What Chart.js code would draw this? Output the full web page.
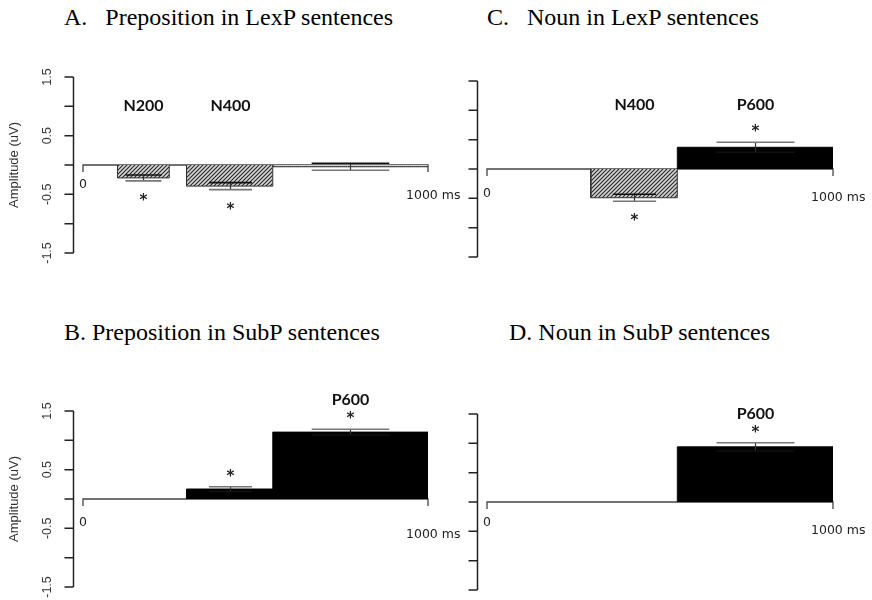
<!DOCTYPE html>
<html lang="en">
<head>
<meta charset="UTF-8">
<title>ERP amplitudes</title>
<script src="https://cdn.jsdelivr.net/npm/chart.js"></script>
<style>
    body {
        margin: 0;
        width: 872px;
        height: 600px;
        background: #fff;
        position: relative;
        overflow: hidden;
    }
    .title {
        position: absolute;
        font-family: "Liberation Serif", serif;
        font-size: 24px;
        line-height: 1;
        color: #000;
        white-space: pre;
    }
    canvas { position: absolute; }
</style>
</head>
<body>
<div class="title" style="left:64px; top:5px">A.   Preposition in LexP sentences</div>
<div class="title" style="left:487px; top:5px">C.   Noun in LexP sentences</div>
<div class="title" style="left:64px; top:320px">B. Preposition in SubP sentences</div>
<div class="title" style="left:509px; top:320px">D. Noun in SubP sentences</div>

<canvas id="chartA" width="480" height="220" style="left:0; top:60px"></canvas>
<canvas id="chartC" width="436" height="220" style="left:436px; top:60px"></canvas>
<canvas id="chartB" width="480" height="220" style="left:0; top:380px"></canvas>
<canvas id="chartD" width="436" height="220" style="left:436px; top:380px"></canvas>

<script>
// time windows (ms), mean amplitude (uV) and error per window
// A: preposition, LexP
const aStart = [100, 300, 550];
const aEnd   = [250, 550, 1000];
const aMean  = [-0.22, -0.36, -0.03];
const aErr   = [0.05, 0.06, 0.06];
const aFill  = ['hatch', 'hatch', 'dots'];
const aLabel = ['N200', 'N400', ''];
const aStar  = [true, true, false];

// B: preposition, SubP
const bStart = [300, 550];
const bEnd   = [550, 1000];
const bMean  = [0.17, 1.14];
const bErr   = [0.04, 0.05];
const bFill  = ['solid', 'solid'];
const bLabel = ['', 'P600'];
const bStar  = [true, true];

// C: noun, LexP
const cStart = [300, 550];
const cEnd   = [550, 1000];
const cMean  = [-0.49, 0.37];
const cErr   = [0.06, 0.085];
const cFill  = ['hatch', 'solid'];
const cLabel = ['N400', 'P600'];
const cStar  = [true, true];

// D: noun, SubP
const dStart = [550];
const dEnd   = [1000];
const dMean  = [0.94];
const dErr   = [0.07];
const dFill  = ['solid'];
const dLabel = ['P600'];
const dStar  = [true];

const yTicks = [-1.5, -1, -0.5, 0, 0.5, 1, 1.5];
const yTickLabels = ['-1.5', '', '-0.5', '', '0.5', '', '1.5'];
const xStartLabel = '0';
const xEndLabel = '1000 ms';
const yTitle = 'Amplitude (uV)';

// fill patterns
function makePattern(size, draw) {
    const c = document.createElement('canvas');
    c.width = size; c.height = size;
    const g = c.getContext('2d');
    draw(g);
    return g.createPattern(c, 'repeat');
}
const fills = {
    solid: '#000',
    hatch: makePattern(4, g => {
        g.fillStyle = '#d4d4d4';
        g.fillRect(0, 0, 4, 4);
        g.strokeStyle = '#262626';
        g.lineWidth = 1.1;
        g.beginPath();
        g.moveTo(0, 4); g.lineTo(4, 0);
        g.moveTo(-1, 1); g.lineTo(1, -1);
        g.moveTo(3, 5); g.lineTo(5, 3);
        g.stroke();
    }),
    dots: makePattern(2, g => {
        g.fillStyle = '#d0d0d0';
        g.fillRect(0, 0, 2, 2);
        g.fillStyle = '#333';
        g.fillRect(0, 0, 1, 1);
    })
};

const panels = [
    { id: 'chartA', start: aStart, end: aEnd, mean: aMean, err: aErr, fill: aFill, label: aLabel, star: aStar,
      pad: {left: 83, right: 52, top: 17, bottom: 27}, yLabels: true, labelY: 1.0, zeroDy: 20, endDy: 31 },
    { id: 'chartB', start: bStart, end: bEnd, mean: bMean, err: bErr, fill: bFill, label: bLabel, star: bStar,
      pad: {left: 83, right: 52, top: 31, bottom: 13}, yLabels: true, labelY: null, zeroDy: 24, endDy: 36 },
    { id: 'chartC', start: cStart, end: cEnd, mean: cMean, err: cErr, fill: cFill, label: cLabel, star: cStar,
      pad: {left: 51, right: 39, top: 21, bottom: 23}, yLabels: false, labelY: 1.1, zeroDy: 25, endDy: 29 },
    { id: 'chartD', start: dStart, end: dEnd, mean: dMean, err: dErr, fill: dFill, label: dLabel, star: dStar,
      pad: {left: 51, right: 39, top: 34, bottom: 10}, yLabels: false, labelY: null, zeroDy: 21, endDy: 29 }
];

function erpPlugin(cfg) {
    return {
        id: 'erp',
        beforeDatasetsDraw(chart) {
            // zero line with little end ticks
            const {ctx, scales: {x, y}} = chart;
            const x0 = x.getPixelForValue(0), x1 = x.getPixelForValue(1000), y0 = y.getPixelForValue(0);
            ctx.save();
            ctx.strokeStyle = '#444';
            ctx.lineWidth = 1.3;
            ctx.beginPath();
            ctx.moveTo(x0, y0 + 7); ctx.lineTo(x0, y0);
            ctx.lineTo(x1, y0); ctx.lineTo(x1, y0 + 7);
            ctx.stroke();
            ctx.restore();
        },
        afterDraw(chart) {
            const {ctx, chartArea, scales: {x, y}} = chart;
            ctx.save();

            // y axis, 10px left of the plot
            const ax = Math.round(chartArea.left - 10) + 0.5;
            ctx.strokeStyle = '#222';
            ctx.lineWidth = 1.5;
            ctx.beginPath();
            ctx.moveTo(ax, y.getPixelForValue(yTicks[0]));
            ctx.lineTo(ax, y.getPixelForValue(yTicks[yTicks.length - 1]));
            yTicks.forEach(t => {
                const py = y.getPixelForValue(t);
                ctx.moveTo(ax, py); ctx.lineTo(ax - 9, py);
            });
            ctx.stroke();

            if (cfg.yLabels) {
                ctx.fillStyle = '#333';
                ctx.font = '12.5px "Liberation Sans", Arial, sans-serif';
                ctx.textAlign = 'center';
                ctx.textBaseline = 'middle';
                yTicks.forEach((t, i) => {
                    if (!yTickLabels[i]) return;
                    ctx.save();
                    ctx.translate(ax - 26, y.getPixelForValue(t));
                    ctx.rotate(-Math.PI / 2);
                    ctx.fillText(yTickLabels[i], 0, 0);
                    ctx.restore();
                });
                ctx.save();
                ctx.font = '13px "Liberation Sans", Arial, sans-serif';
                ctx.translate(14, (chartArea.top + chartArea.bottom) / 2);
                ctx.rotate(-Math.PI / 2);
                ctx.fillText(yTitle, 0, 0);
                ctx.restore();
            }

            // x end labels
            const y0 = y.getPixelForValue(0);
            ctx.fillStyle = '#222';
            ctx.font = '12.5px "DejaVu Sans", sans-serif';
            ctx.textBaseline = 'middle';
            ctx.textAlign = 'center';
            ctx.fillText(xStartLabel, x.getPixelForValue(0), y0 + cfg.zeroDy);
            ctx.textAlign = 'left';
            ctx.fillText(xEndLabel, x.getPixelForValue(1000) - 22, y0 + cfg.endDy);

            // error bars, stars, component labels
            cfg.mean.forEach((m, i) => {
                const px0 = x.getPixelForValue(cfg.start[i]);
                const px1 = x.getPixelForValue(cfg.end[i]);
                const xc = Math.round((px0 + px1) / 2) + 0.5;
                const half = Math.max((px1 - px0) * 0.25, 18);
                const dir = m < 0 ? -1 : 1;
                const yIn = y.getPixelForValue(m - dir * cfg.err[i]);
                const yOut = y.getPixelForValue(m + dir * cfg.err[i]);

                ctx.lineWidth = 1.2;
                ctx.strokeStyle = '#333';
                ctx.beginPath();
                ctx.moveTo(xc, yIn); ctx.lineTo(xc, yOut);
                ctx.stroke();
                ctx.lineWidth = 1.6;
                ctx.strokeStyle = '#111';
                ctx.beginPath();
                ctx.moveTo(xc - half, yIn); ctx.lineTo(xc + half, yIn);
                ctx.stroke();
                ctx.strokeStyle = '#777';
                ctx.beginPath();
                ctx.moveTo(xc - half, yOut); ctx.lineTo(xc + half, yOut);
                ctx.stroke();

                const starY = yOut - dir * 15;
                if (cfg.star[i]) {
                    ctx.fillStyle = '#222';
                    ctx.font = 'bold 15px "DejaVu Sans", sans-serif';
                    ctx.textAlign = 'center';
                    ctx.textBaseline = 'alphabetic';
                    ctx.fillText('*', xc, starY + 9);
                }
                if (cfg.label[i]) {
                    const ly = cfg.labelY !== null ? y.getPixelForValue(cfg.labelY) : starY - 14;
                    ctx.fillStyle = '#111';
                    ctx.font = 'bold 16px Lato, sans-serif';
                    ctx.textAlign = 'center';
                    ctx.textBaseline = 'middle';
                    ctx.fillText(cfg.label[i], xc, ly);
                }
            });
            ctx.restore();
        }
    };
}

panels.forEach(cfg => {
    const datasets = cfg.start.map((s, i) => ({
        data: [
            {x: s, y: 0}, {x: s, y: cfg.mean[i]},
            {x: cfg.end[i], y: cfg.mean[i]}, {x: cfg.end[i], y: 0}
        ],
        borderColor: cfg.fill[i] === 'solid' ? '#000' : '#333',
        borderWidth: 1,
        backgroundColor: fills[cfg.fill[i]],
        fill: 'origin',
        pointRadius: 0,
        tension: 0
    }));
    new Chart(document.getElementById(cfg.id), {
        type: 'line',
        data: { datasets },
        options: {
            responsive: false,
            animation: false,
            events: [],
            layout: { padding: cfg.pad },
            scales: {
                x: { type: 'linear', min: 0, max: 1000, display: false },
                y: { type: 'linear', min: -1.5, max: 1.5, display: false }
            },
            plugins: { legend: { display: false }, tooltip: { enabled: false } }
        },
        plugins: [erpPlugin(cfg)]
    });
});
</script>
</body>
</html>
